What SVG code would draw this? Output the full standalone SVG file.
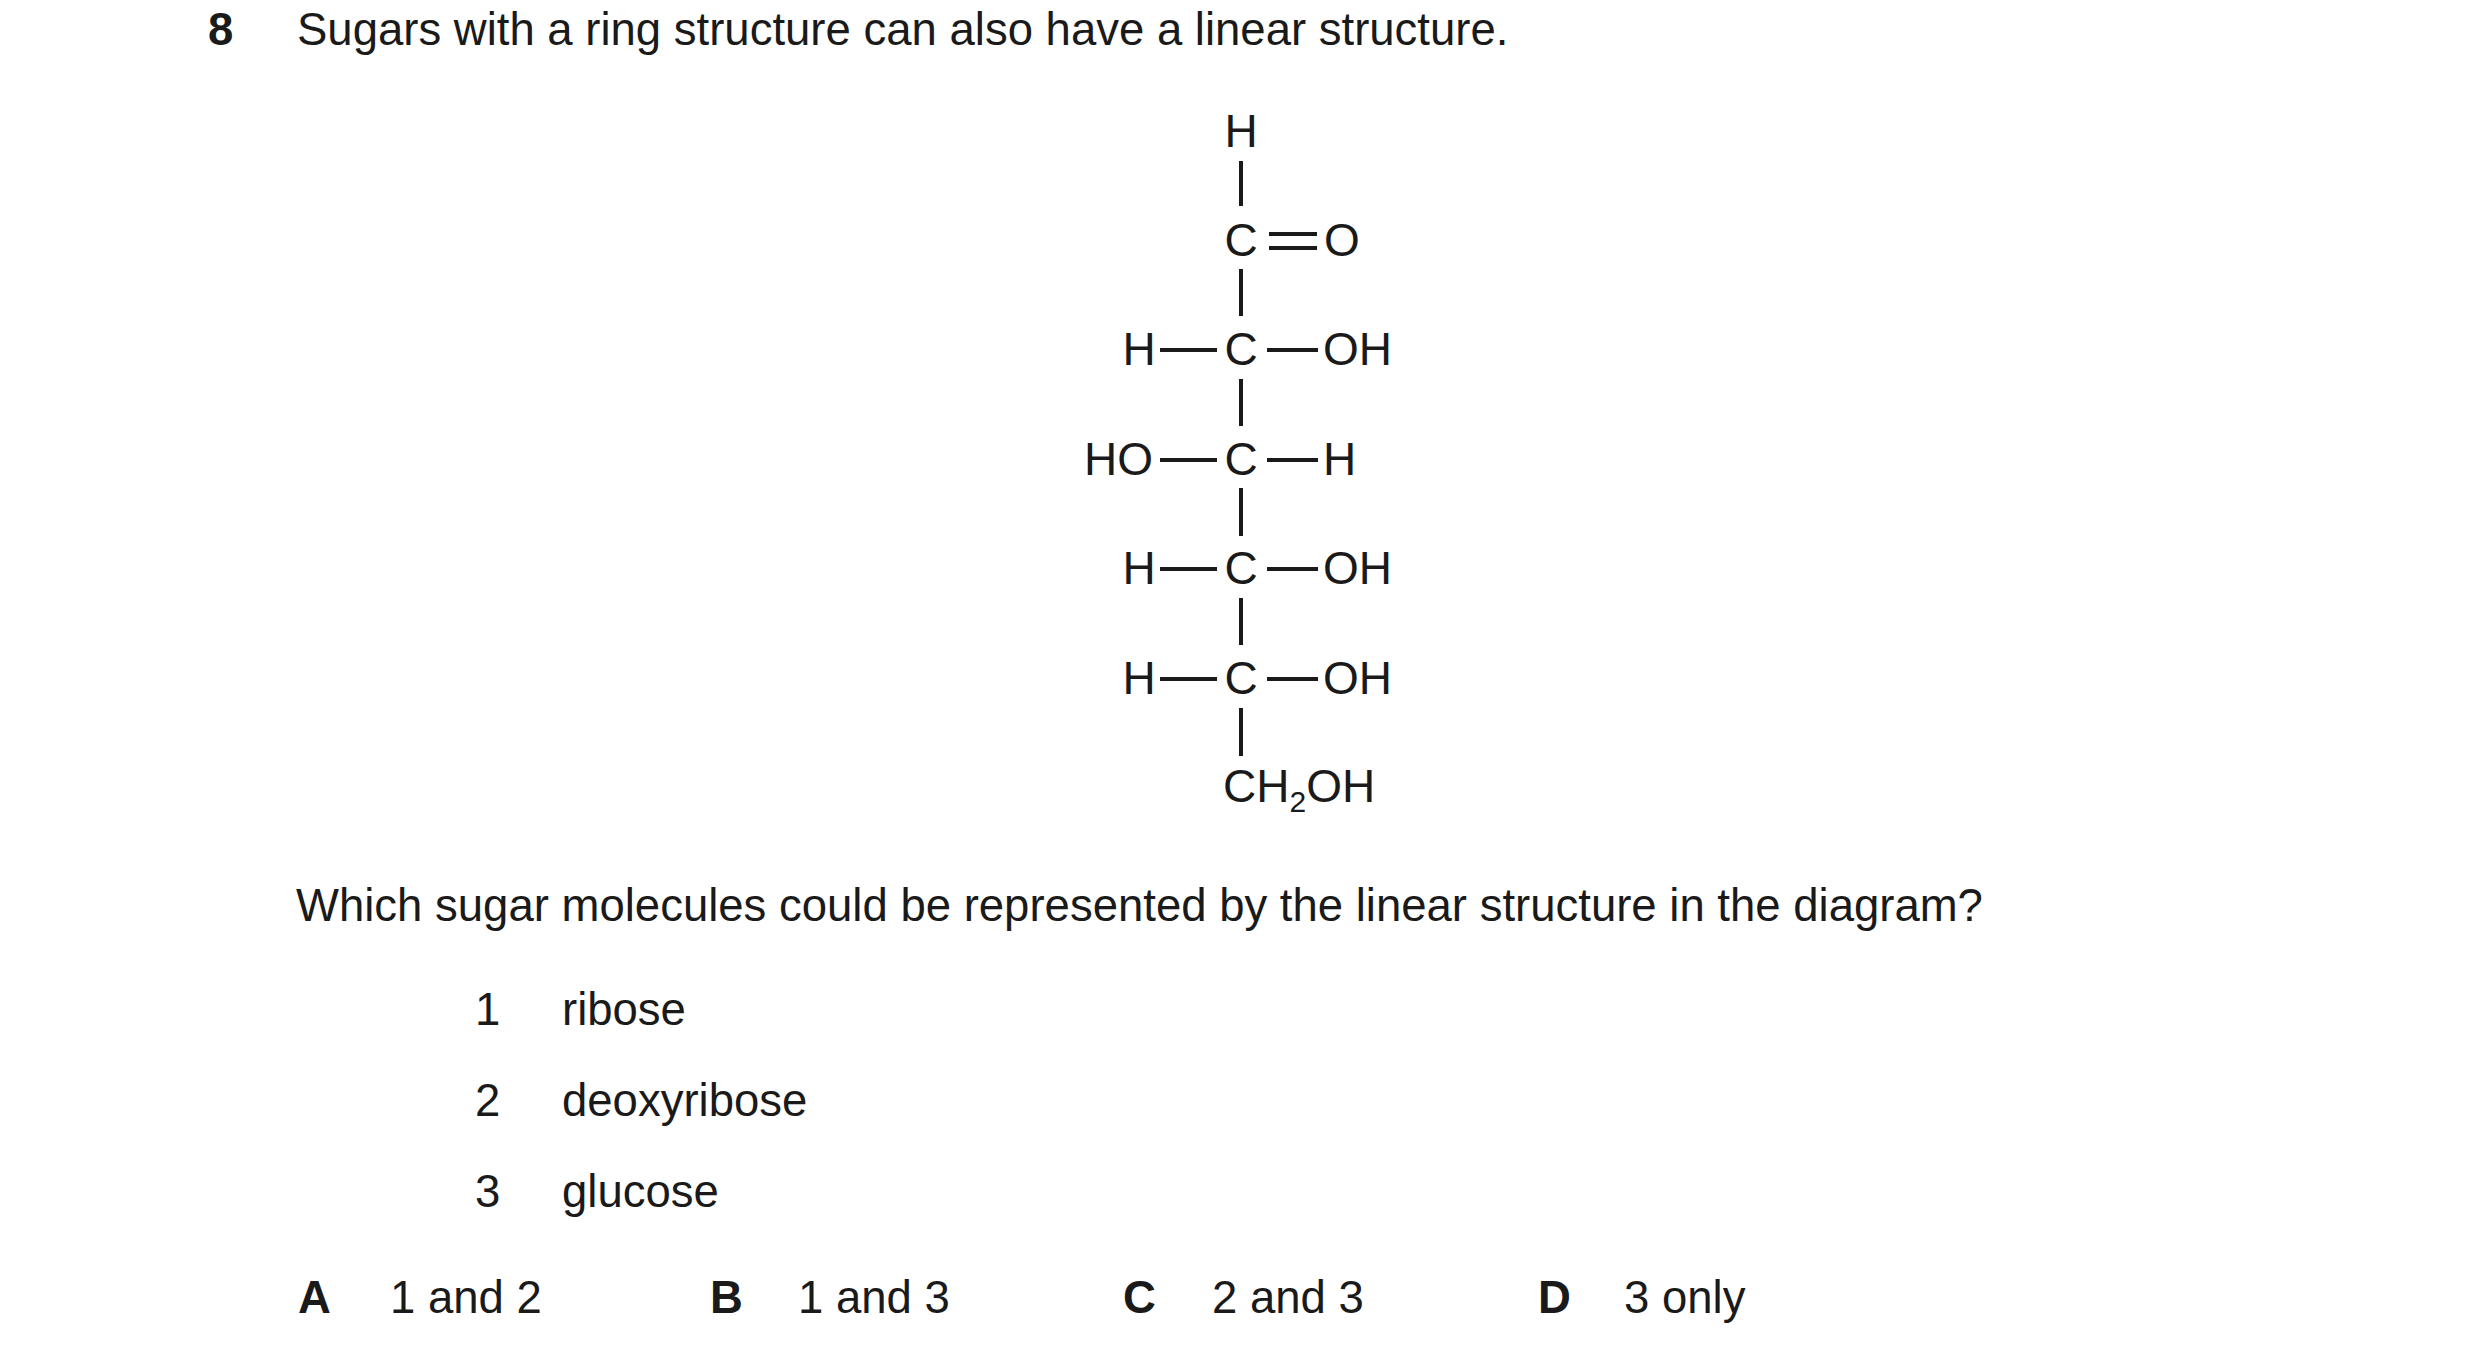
<svg xmlns="http://www.w3.org/2000/svg" width="2480" height="1361" viewBox="0 0 2480 1361">
<style>
text{font-family:"Liberation Sans",Arial,sans-serif;font-size:45.5px;fill:#1a1a1a}
.b{font-weight:bold}
.f{font-size:46px}
.m{text-anchor:middle}
line{stroke:#1a1a1a;stroke-width:4}
</style>
<rect width="2480" height="1361" fill="#fff"/>
<g id="question">
<text x="208" y="45" class="b">8</text>
<text x="297" y="45">Sugars with a ring structure can also have a linear structure.</text>
<text x="296" y="921">Which sugar molecules could be represented by the linear structure in the diagram?</text>
</g>
<g transform="translate(-13,-4)">
<g id="molecule">
<text x="1254" y="151" class="f m">H</text>
<text x="1254" y="260" class="f m">C</text><text x="1355" y="260" class="f m">O</text>
<text x="1152" y="369" class="f m">H</text><text x="1254" y="369" class="f m">C</text><text x="1336" y="369" class="f">OH</text>
<text x="1097" y="479" class="f">HO</text><text x="1254" y="479" class="f m">C</text><text x="1336" y="479" class="f">H</text>
<text x="1152" y="588" class="f m">H</text><text x="1254" y="588" class="f m">C</text><text x="1336" y="588" class="f">OH</text>
<text x="1152" y="698" class="f m">H</text><text x="1254" y="698" class="f m">C</text><text x="1336" y="698" class="f">OH</text>
<text x="1236" y="806" class="f">CH<tspan dy="10" font-size="30">2</tspan><tspan dy="-10">OH</tspan></text>
</g>
<g id="bonds">
<line x1="1254" y1="165" x2="1254" y2="210"/>
<line x1="1282" y1="238" x2="1330" y2="238"/><line x1="1282" y1="252" x2="1330" y2="252"/>
<line x1="1254" y1="273" x2="1254" y2="320"/>
<line x1="1173" y1="354" x2="1230" y2="354"/><line x1="1280" y1="354" x2="1331" y2="354"/>
<line x1="1254" y1="383" x2="1254" y2="430"/>
<line x1="1173" y1="464" x2="1230" y2="464"/><line x1="1280" y1="464" x2="1331" y2="464"/>
<line x1="1254" y1="492" x2="1254" y2="540"/>
<line x1="1173" y1="573" x2="1230" y2="573"/><line x1="1280" y1="573" x2="1331" y2="573"/>
<line x1="1254" y1="602" x2="1254" y2="649"/>
<line x1="1173" y1="683" x2="1230" y2="683"/><line x1="1280" y1="683" x2="1331" y2="683"/>
<line x1="1254" y1="712" x2="1254" y2="760"/>
</g>
</g>
<g id="items">
<text x="475" y="1025">1</text><text x="562" y="1025">ribose</text>
<text x="475" y="1116">2</text><text x="562" y="1116">deoxyribose</text>
<text x="475" y="1207">3</text><text x="562" y="1207">glucose</text>
</g>
<g id="answers">
<text x="298" y="1313" class="b">A</text><text x="390" y="1313">1 and 2</text>
<text x="710" y="1313" class="b">B</text><text x="798" y="1313">1 and 3</text>
<text x="1123" y="1313" class="b">C</text><text x="1212" y="1313">2 and 3</text>
<text x="1538" y="1313" class="b">D</text><text x="1624" y="1313">3 only</text>
</g>
</svg>
